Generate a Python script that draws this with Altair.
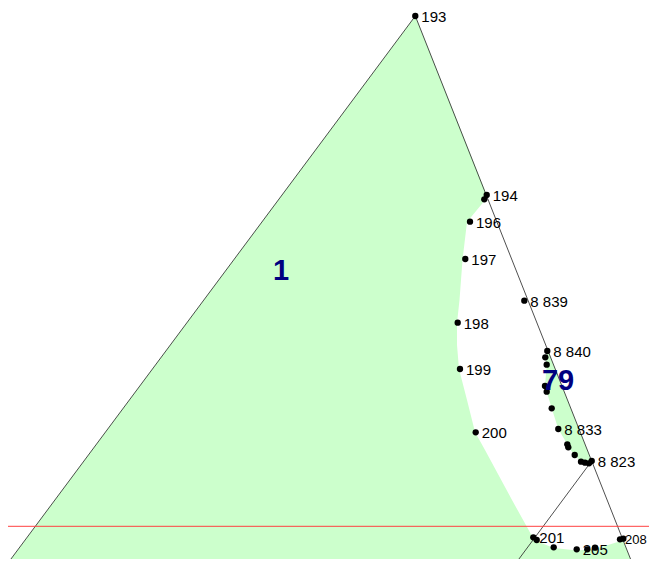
import altair as alt
import pandas as pd

# ---- data (page-pixel-like map coordinates, y grows downward) ----
# parcel 1 boundary
poly1_x = [5, 415.3, 486.7, 484.3, 467, 462.5, 459.5, 457, 457, 459, 467, 475, 485, 512, 527, 533, 536, 554, 577, 595, 621, 623.4, 633.7]
poly1_y = [567, 16, 195, 201, 222, 260, 300, 323, 345, 369, 400, 432, 450, 500, 527, 538, 541, 548, 550.5, 549, 541, 541, 567]
# parcel 79 boundary
poly79_x = [548, 591.7, 589, 585, 581, 574.7, 568.3, 567.3, 558.3, 551.7, 546.7, 545, 546.7, 545.3]
poly79_y = [351, 461, 463.3, 462.7, 461.7, 455, 447.3, 444.3, 429, 408.3, 391.7, 386, 364.7, 357.3]

# boundary lines (segment id, x, y)
line_id = ["A", "A", "B", "B", "C", "C"]
line_x = [5, 415.3, 415.3, 633.7, 591.7, 513]
line_y = [567, 16, 16, 567, 461, 567]

# red horizontal line
red_x = [0, 657]
red_y = [526.3, 526.3]

# survey points
pt_x = [415.3, 486.7, 484.3, 470, 465.3, 457.7, 460, 475.7, 524.3,
        547.3, 545.3, 546.7, 545, 546.7, 551.7, 558.3, 567.3, 568.3, 574.7, 581, 585, 589, 591.7,
        533.3, 536.7, 553.7, 576.7, 587.3, 595, 620, 623.3]
pt_y = [16, 195, 199.3, 221.7, 259, 322.7, 369, 432.3, 300.7,
        351, 357.3, 364.7, 386, 391.7, 408.3, 429, 444.3, 447.3, 455, 461.7, 462.7, 463.3, 461,
        537.3, 540, 547.3, 549.3, 549.3, 547.7, 539.3, 538.7]
pt_label = ["193", "194", "", "196", "197", "198", "199", "200", "8 839",
            "8 840", "", "", "", "", "", "8 833", "", "", "", "", "", "", "8 823",
            "201", "", "", "205", "", "", "208", ""]

# parcel numbers
parcel_x = [281, 558]
parcel_y = [271, 381]
parcel_label = ["1", "79"]

# ---- tables ----
poly_df = pd.DataFrame({
    "poly": ["1"] * len(poly1_x) + ["79"] * len(poly79_x),
    "i": list(range(len(poly1_x))) + list(range(len(poly79_x))),
    "x": poly1_x + poly79_x,
    "y": poly1_y + poly79_y,
})
line_df = pd.DataFrame({"seg": line_id, "i": list(range(len(line_x))), "x": line_x, "y": line_y})
red_df = pd.DataFrame({"x": red_x, "y": red_y})
pt_df = pd.DataFrame({"x": pt_x, "y": pt_y, "label": pt_label})
parcel_df = pd.DataFrame({"x": parcel_x, "y": parcel_y, "label": parcel_label})

X = alt.X("x:Q", scale=alt.Scale(domain=[8, 649], nice=False, zero=False), axis=None)
Y = alt.Y("y:Q", scale=alt.Scale(domain=[8, 559], nice=False, zero=False, reverse=True), axis=None)

polys = alt.Chart(poly_df).mark_line(fill="#ccffcc", strokeOpacity=0, clip=True).encode(
    x=X, y=Y, detail="poly:N", order="i:Q")

lines = alt.Chart(line_df).mark_line(color="#222222", strokeWidth=0.8, clip=True).encode(
    x=X, y=Y, detail="seg:N", order="i:Q")

red = alt.Chart(red_df).mark_line(color="#ff4040", strokeWidth=1, clip=True).encode(x=X, y=Y)

points = alt.Chart(pt_df).mark_circle(color="black", opacity=1, size=40).encode(x=X, y=Y)

labels = alt.Chart(pt_df).transform_filter(alt.datum.label != "208").mark_text(
    align="left", baseline="middle", dx=6, dy=1, fontSize=15,
    font="Liberation Sans", color="black").encode(x=X, y=Y, text="label:N")

# the label at the right edge is drawn a little smaller so it stays inside the page
edge_label = alt.Chart(pt_df).transform_filter(alt.datum.label == "208").mark_text(
    align="left", baseline="middle", dx=5, dy=1, fontSize=13,
    font="Liberation Sans", color="black").encode(x=X, y=Y, text="label:N")

parcels = alt.Chart(parcel_df).mark_text(
    align="center", baseline="middle", fontSize=29, fontWeight="bold",
    font="Liberation Sans", color="#000080").encode(x=X, y=Y, text="label:N")

chart = alt.layer(polys, lines, red, points, labels, edge_label, parcels).properties(
    width=641, height=551, padding=0,
    autosize=alt.AutoSizeParams(type="none"),
).configure_view(stroke=None)

chart.save("out.html", embed_options={"renderer": "svg", "actions": False})
